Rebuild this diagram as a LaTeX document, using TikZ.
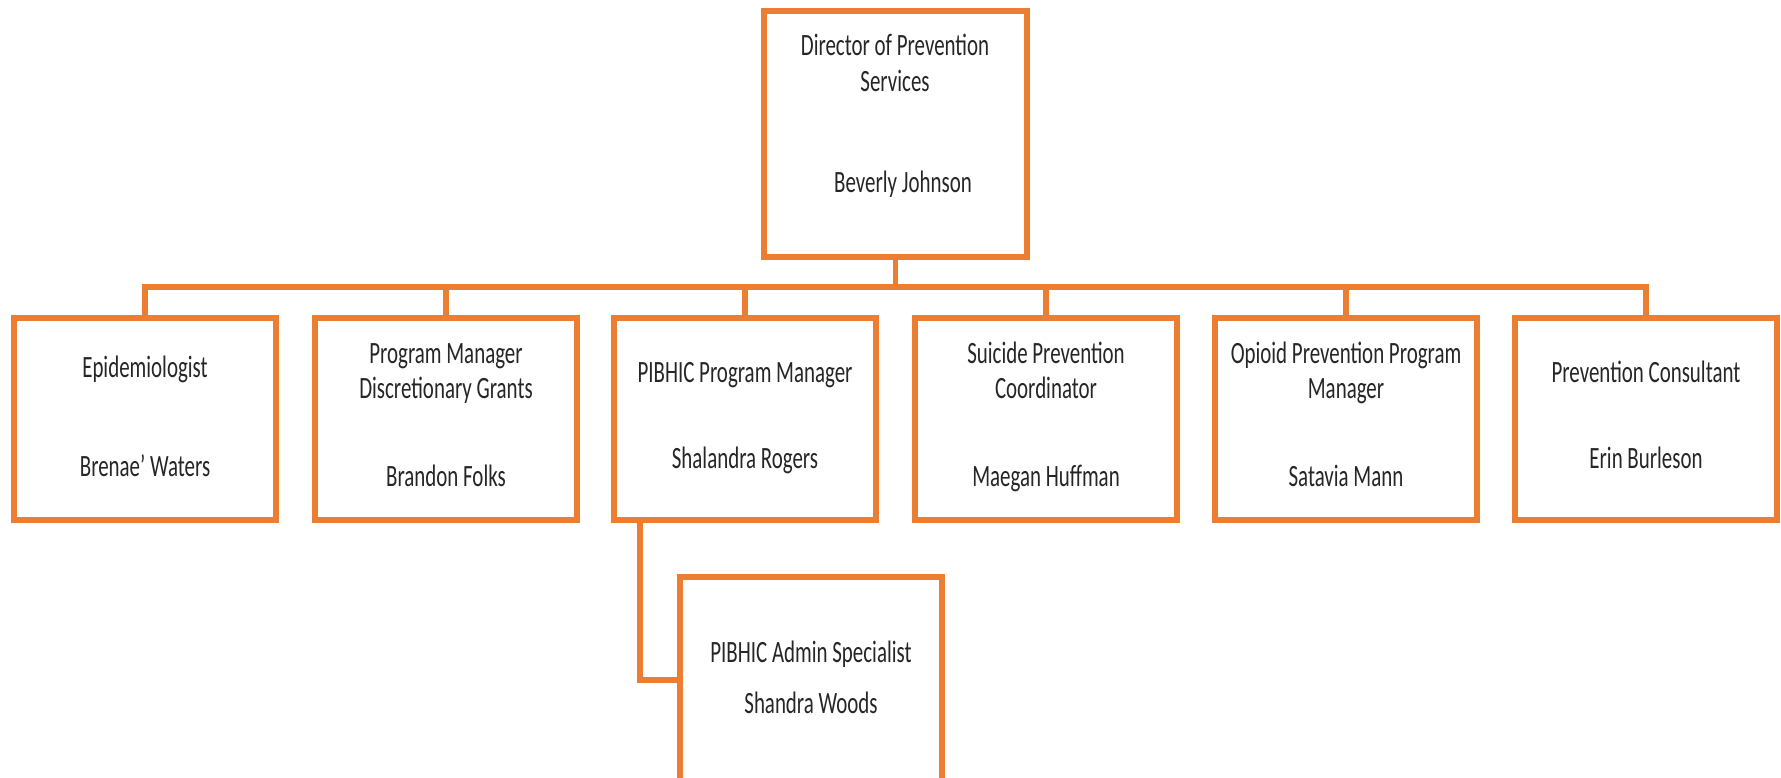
\documentclass[tikz,border=0pt]{standalone}
\usepackage{fontspec}
\setmainfont{Carlito}[FakeStretch=0.675]
\definecolor{orgline}{HTML}{ED7D31}
\definecolor{txtcol}{HTML}{262626}
\begin{document}
\begin{tikzpicture}[x=1pt,y=-1pt,
  box/.style={draw=orgline, line width=5.5pt, rectangle, inner sep=0pt, fill=white},
  rowbox/.style={box, minimum width=262pt, minimum height=202pt},
  conn/.style={draw=orgline, line width=5.5pt},
  txt/.style={inner sep=0pt, anchor=base, text=txtcol, font=\fontsize{31}{37}\selectfont}]
\clip (0,0) rectangle (1781,778);
\fill[white] (0,0) rectangle (1781,778);
% boxes
\node[box, minimum width=263pt, minimum height=246pt] (top) at (895.5,134) {};
\node[rowbox] (b1) at (145,419) {};
\node[rowbox] (b2) at (446,419) {};
\node[rowbox] (b3) at (745,419) {};
\node[rowbox] (b4) at (1046,419) {};
\node[rowbox] (b5) at (1346,419) {};
\node[rowbox] (b6) at (1646,419) {};
\node[box, minimum width=262pt, minimum height=206pt] (adm) at (811,680) {};
% connectors
\coordinate (bus) at (895.5,287);
\draw[conn] (top.south) -- (top.south |- bus);
\draw[conn] (b1.north) -- (b1.north |- bus) -- (b6.north |- bus) -- (b6.north);
\draw[conn] (b2.north) -- (b2.north |- bus);
\draw[conn] (b3.north) -- (b3.north |- bus);
\draw[conn] (b4.north) -- (b4.north |- bus);
\draw[conn] (b5.north) -- (b5.north |- bus);
\coordinate (c3) at (640,520);
\draw[conn] (c3) |- (adm.west);
% texts
\node[txt] (t0a) at (895,56) {Director of Prevention};
\node[txt] (t0b) at (895,92) {Services};
\node[txt] (t0c) at (903,193) {Beverly Johnson};
\node[txt] (t1a) at (145,377) {Epidemiologist};
\node[txt] (t1b) at (145,476) {Brenae’ Waters};
\node[txt] (t2a) at (446,363) {Program Manager};
\node[txt] (t2b) at (446,398) {Discretionary Grants};
\node[txt] (t2c) at (446,486) {Brandon Folks};
\node[txt] (t3a) at (745,382) {PIBHIC Program Manager};
\node[txt] (t3b) at (745,468) {Shalandra Rogers};
\node[txt] (t4a) at (1046,363) {Suicide Prevention};
\node[txt] (t4b) at (1046,398) {Coordinator};
\node[txt] (t4c) at (1046,486) {Maegan Huffman};
\node[txt] (t5a) at (1346,363) {Opioid Prevention Program};
\node[txt] (t5b) at (1346,398) {Manager};
\node[txt] (t5c) at (1346,486) {Satavia Mann};
\node[txt] (t6a) at (1646,382) {Prevention Consultant};
\node[txt] (t6b) at (1646,468) {Erin Burleson};
\node[txt] (tAa) at (811,662) {PIBHIC Admin Specialist};
\node[txt] (tAb) at (811,713) {Shandra Woods};
\end{tikzpicture}
\end{document}
